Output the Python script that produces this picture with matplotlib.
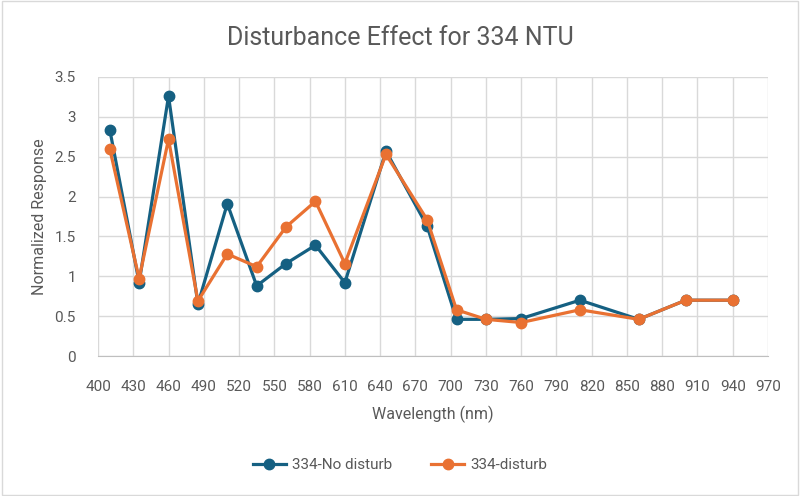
"""Disturbance effect chart for 334 NTU (Excel-style line chart)."""

import matplotlib
matplotlib.use("Agg")
import matplotlib.pyplot as plt
from matplotlib.patches import Rectangle

wavelengths = [410, 435, 460, 485, 510, 535, 560, 585, 610, 645,
               680, 705, 730, 760, 810, 860, 900, 940]
no_disturb = [2.84, 0.92, 3.26, 0.65, 1.91, 0.88, 1.16, 1.39, 0.92, 2.57,
              1.63, 0.46, 0.46, 0.47, 0.70, 0.46, 0.70, 0.70]
disturb = [2.60, 0.97, 2.72, 0.69, 1.28, 1.12, 1.62, 1.94, 1.16, 2.53,
           1.71, 0.58, 0.46, 0.42, 0.58, 0.46, 0.70, 0.70]
x_ticks = list(range(400, 971, 30))
y_ticks = [0, 0.5, 1, 1.5, 2, 2.5, 3, 3.5]
y_labels = ["0", "0.5", "1", "1.5", "2", "2.5", "3", "3.5"]

BLUE = "#156082"
ORANGE = "#E97132"
TEXT = "#595959"
GRID = "#D9D9D9"

plt.rcParams["font.family"] = ["Roboto", "DejaVu Sans"]

fig = plt.figure(figsize=(8, 4.96), dpi=100)
ax = fig.add_axes([98 / 800, 1 - 356 / 496, 670 / 800, 279 / 496])

ax.plot(wavelengths, no_disturb, color=BLUE, lw=2.3, marker="o", ms=7.5,
        label="334-No disturb", zorder=3)
ax.plot(wavelengths, disturb, color=ORANGE, lw=2.3, marker="o", ms=7.5,
        label="334-disturb", zorder=4)

ax.set_xlim(400, 970)
ax.set_ylim(0, 3.5)
ax.set_xticks(x_ticks)
ax.set_yticks(y_ticks)
ax.set_yticklabels(y_labels)
ax.grid(True, color=GRID, lw=1)
ax.set_axisbelow(True)
ax.tick_params(length=0, labelsize=11, colors=TEXT)
ax.tick_params(axis="x", pad=17)
ax.tick_params(axis="y", pad=16)
for side in ("top", "right", "left"):
    ax.spines[side].set_visible(False)
ax.spines["bottom"].set_color("#BFBFBF")

ax.set_xlabel("Wavelength (nm)", fontsize=11.5, color=TEXT, labelpad=9)
ax.set_ylabel("Normalized Response", fontsize=11.5, color=TEXT, labelpad=5)
fig.text(0.5, 1 - 38 / 496, "Disturbance Effect for 334 NTU", ha="center",
         va="center", fontsize=18, color=TEXT)

leg = fig.legend(loc="center", bbox_to_anchor=(0.5, 1 - 465 / 496), ncol=2,
                 frameon=False, fontsize=11, handlelength=2.2,
                 columnspacing=2.5, handletextpad=0.4)
for t in leg.get_texts():
    t.set_color(TEXT)

fig.patches.append(Rectangle((0.002, 0.002), 0.996, 0.996, transform=fig.transFigure,
                             fill=False, ec="#D9D9D9", lw=1))

fig.savefig("out.png", dpi=100, facecolor="white")
